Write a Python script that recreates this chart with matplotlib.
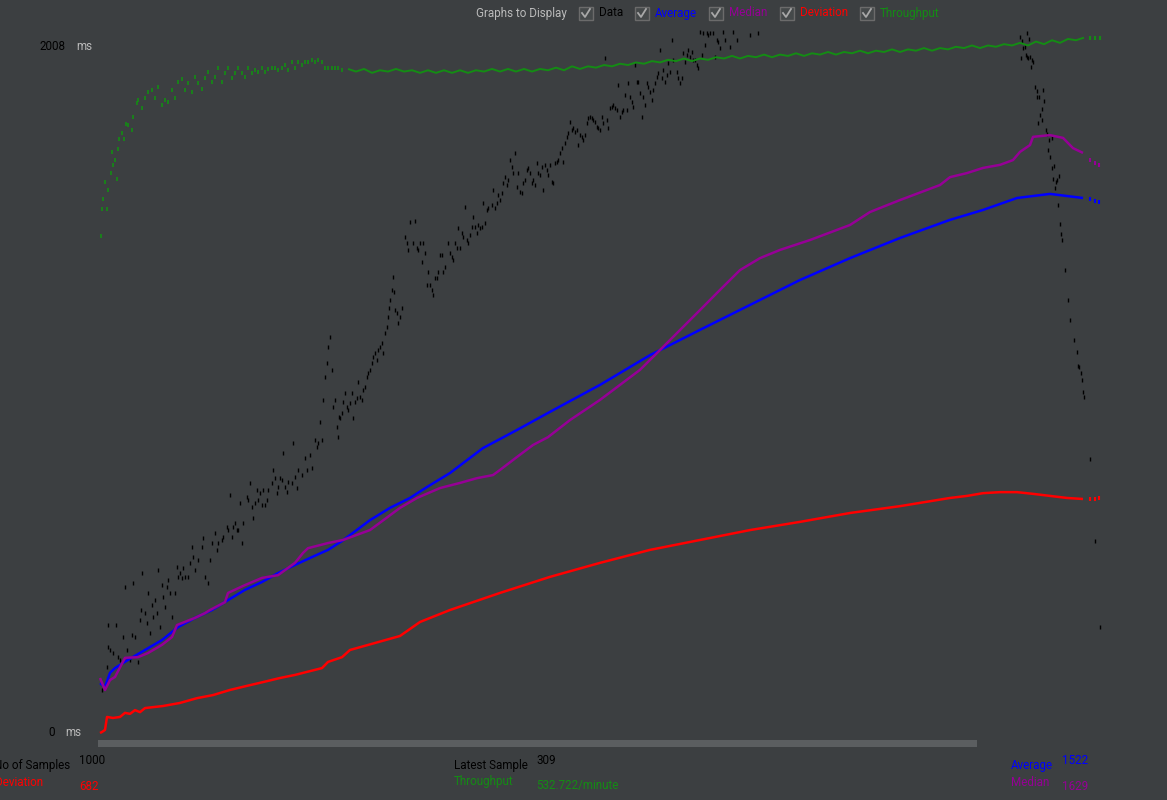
import numpy as np
import matplotlib
matplotlib.use("Agg")
import matplotlib.pyplot as plt
from matplotlib.patches import Rectangle
from matplotlib.lines import Line2D

# JMeter "Graph Results" screenshot: 1000 samples, response times in ms
W, H = 1167, 800
BG = "#3c3f41"
C_DATA, C_AVG, C_MED, C_DEV, C_THR = "#000000", "#0000ff", "#960096", "#ff0000", "#148c14"
GRAY = "#bbbbbb"

GRAPH_MAX = 2008
SUMMARY = {"samples": 1000, "latest": 309, "average": 1522, "median": 1629,
           "deviation": 682, "throughput": "532.722/minute"}

# --- series (sample index, ms) ---
AVG_IDX = [0, 5, 10, 15, 28, 45, 62, 78, 95, 112, 128, 145, 162, 178, 195, 212, 228, 242, 270, 290,
           310, 327, 350, 383, 417, 450, 500, 550, 600, 650, 700, 750, 800, 850, 883, 917, 950, 983,
           990, 995, 999]
AVG_MS = [146, 135, 176, 190, 214, 243, 272, 310, 337, 360, 389, 419, 442, 468, 492, 515, 536, 562, 623, 659,
          688, 720, 761, 834, 887, 940, 1019, 1106, 1180, 1253, 1326, 1390, 1449, 1502, 1531, 1566, 1578, 1566,
          1563, 1557, 1554]

MED_IDX = [0, 5, 10, 15, 25, 38, 48, 62, 72, 77, 95, 105, 110, 125, 128, 145, 162, 178, 195, 203,
           208, 228, 243, 270, 300, 317, 340, 360, 377, 393, 400, 417, 433, 448, 470, 500, 540, 560, 600, 620,
           640, 660, 680, 710, 750, 770, 800, 840, 850, 867, 883, 900, 913, 920, 930, 933, 950, 963, 973, 983,
           990, 995, 999]
MED_MS = [161, 126, 155, 164, 220, 222, 234, 258, 281, 316, 337, 351, 360, 383, 410, 433, 454, 462, 498, 527,
          541, 556, 565, 594, 659, 688, 717, 732, 746, 755, 770, 808, 843, 866, 916, 975, 1063, 1121, 1238, 1297,
          1355, 1390, 1414, 1443, 1487, 1525, 1560, 1604, 1627, 1639, 1654, 1663, 1677, 1701, 1721, 1745, 1750,
          1742, 1712, 1698, 1677, 1668, 1663]

DEV_IDX = [0, 2, 5, 7, 13, 20, 25, 30, 35, 40, 45, 63, 80, 97, 113, 130, 147, 163, 180, 195,
           222, 228, 242, 250, 300, 320, 350, 400, 450, 500, 550, 600, 650, 700, 750, 800, 850, 867, 883, 900,
           917, 933, 950, 967, 983, 990, 995, 999]
DEV_MS = [0, 3, 9, 47, 44, 47, 59, 56, 67, 61, 73, 79, 88, 102, 111, 126, 138, 149, 161, 170,
          190, 208, 222, 243, 284, 325, 360, 410, 457, 498, 536, 565, 594, 618, 644, 664, 688, 694, 702, 705,
          705, 700, 694, 688, 685, 685, 685, 688]

# throughput (requests/minute): noisy start, then a steady line
THR_EARLY_IDX = [1, 2, 3, 5, 7, 8, 11, 12, 13, 15, 17, 18, 19, 22, 24, 26, 28, 32, 33, 37,
                 38, 42, 45, 48, 52, 55, 58, 62, 65, 68, 72, 75, 78, 82, 85, 88, 92, 95, 98, 102,
                 105, 108, 112, 115, 118, 122, 125, 128, 132, 135, 138, 142, 145, 148, 152, 155, 158, 162, 165, 168,
                 172, 175, 178, 182, 185, 188, 192, 195, 198, 202, 205, 208, 212, 215, 218, 222, 225, 228, 232, 235,
                 238, 242]
THR_EARLY = [381, 402, 409, 422, 402, 416, 429, 445, 435, 439, 425, 448, 455, 460, 455, 467, 466, 462, 472, 483,
             485, 479, 487, 491, 493, 487, 495, 481, 485, 484, 493, 487, 499, 501, 493, 498, 491, 503, 498, 494,
             502, 507, 499, 503, 510, 499, 506, 510, 502, 506, 510, 506, 503, 510, 506, 508, 507, 510, 507, 509,
             510, 510, 508, 510, 512, 508, 514, 510, 514, 512, 514, 514, 516, 514, 516, 514, 510, 510, 510, 510,
             510, 508]
THR_LINE_IDX = list(range(248, 985, 8)) + [990, 995, 1000]
THR_LINE = [509, 507, 509, 506, 508, 507, 509, 507, 508, 506,
            508, 506, 508, 506, 508, 506, 508, 507, 509, 507,
            509, 507, 509, 507, 509, 508, 510, 508, 511, 509,
            511, 510, 512, 511, 513, 512, 514, 513, 515, 514,
            516, 515, 517, 515, 517, 516, 518, 517, 519, 517,
            519, 518, 520, 518, 520, 519, 521, 519, 521, 520,
            522, 520, 522, 521, 523, 521, 523, 522, 524, 522,
            524, 523, 525, 523, 525, 524, 526, 525, 527, 525,
            527, 526, 528, 527, 529, 527, 530, 528, 531, 529,
            532, 531, 533, 533, 533, 533]

# individual samples (only the ones visible inside the graph)
DATA_IDX = [2, 7, 8, 10, 8, 16, 13, 18, 20, 25, 23, 27, 30, 32, 33, 35, 38, 40, 42, 41,
            45, 47, 48, 50, 52, 53, 55, 57, 58, 60, 62, 63, 65, 67, 68, 70, 72, 75, 77, 78,
            80, 82, 83, 85, 88, 90, 92, 93, 95, 98, 102, 103, 105, 108, 110, 112, 115, 117, 118, 122,
            123, 127, 128, 130, 132, 133, 135, 137, 138, 140, 142, 143, 147, 148, 150, 152, 153, 155, 157, 158,
            160, 162, 163, 165, 167, 168, 172, 173, 175, 177, 178, 180, 182, 183, 185, 187, 188, 192, 193, 195,
            197, 198,
            202, 205, 207, 210, 212, 215, 217, 218, 222, 220, 223, 225, 227, 228, 230, 232, 233, 235, 237, 238,
            239, 240, 242, 243, 245, 247, 248, 250, 252, 253, 255, 257, 258, 260, 262, 263, 265, 267, 268, 270,
            272, 273, 275, 277, 278, 280, 282, 283, 285, 287, 288, 289, 290, 292, 293, 294, 295, 297, 298, 300,
            302, 305, 307, 308, 310, 313, 315, 317, 318, 320, 322, 323, 325, 327, 328, 330, 332, 333, 335, 337,
            338, 340, 342, 343, 345, 348, 350, 352, 353, 355, 357, 358, 360, 362, 363, 365, 367, 368, 370, 372,
            373, 375, 377, 378, 380, 382, 383, 385, 387, 388, 392, 395, 397, 400,
            393, 398, 402,
            403, 405, 407, 408, 410, 412, 413, 415, 417, 418, 420, 422, 423, 425, 427, 428, 430, 432, 433, 435,
            437, 438, 440, 442, 443, 445, 447, 448, 450, 452, 453, 455, 457, 458, 460, 462, 463, 465, 467, 468,
            470, 472, 473, 475, 477, 478, 480, 482, 483, 485, 487, 488, 490, 492, 493, 495, 497, 498, 500, 502,
            503, 505, 507, 508, 510, 512, 513, 515, 517, 518, 520, 522, 523, 525, 527, 528, 530, 532, 533, 535,
            537, 538, 540, 542, 543, 545, 547, 548, 550, 552, 553, 555, 557, 558, 560, 562, 563, 565, 567, 568,
            570, 572, 573, 577, 578, 580, 582, 583, 585, 587, 588, 590, 592, 593, 595, 597, 598, 600, 602, 603,
            605, 607, 608, 610, 613, 615, 617, 618, 620, 623, 625, 630, 633, 637, 650, 658,
            920, 927, 922, 929, 923, 925, 926, 921, 927, 928, 930, 932, 933, 931, 935, 937, 943, 937, 939, 944,
            942, 940, 942, 938, 946, 947, 952, 949, 948, 950, 954, 952, 959, 953, 957, 956, 955, 958,
            960, 961, 962, 965, 968, 970, 974,
            977, 978, 979, 981, 982, 983, 984, 990, 995, 1000]
DATA_MS = [126, 194, 253, 243, 316, 316, 234, 222, 214, 427, 281, 243, 214, 287, 439, 281, 208, 331, 468, 360,
           351, 322, 410, 293, 375, 340, 389, 351, 477, 310, 433, 398, 369, 427, 448, 410, 340, 410, 486, 457,
           468, 454, 483, 457, 457, 498, 544, 515, 477, 506, 544, 571, 457, 439, 506, 556, 585, 536, 556, 565,
           574, 603, 594, 697, 574, 603, 615, 594, 594, 673, 556, 615, 691, 682, 732, 662, 629, 673, 711, 682,
           702, 667, 711, 667, 682, 711, 732, 770, 746, 702, 720, 746, 741, 820, 720, 705, 735, 732, 849, 749,
           717, 770,
           755, 805, 770, 814, 776, 858, 837, 849, 858, 910, 975, 1042, 1083, 1130, 1159, 1063, 954, 975, 896, 866,
           925, 922, 937, 969, 995, 954, 945, 966, 995, 922, 969, 981, 1027, 983, 975, 1004, 1013, 1042, 1054, 1063,
           1083, 1101, 1112, 1092, 1121, 1130, 1142, 1112, 1171, 1188, 1218, 1244, 1267, 1297, 1335, 1291, 1238, 1229, 1200, 1218,
           1244, 1452, 1434, 1414, 1496, 1434, 1499, 1420, 1414, 1434, 1379, 1434, 1405, 1311, 1349, 1311, 1297, 1282, 1332, 1332,
           1349, 1399, 1399, 1349, 1364, 1434, 1405, 1393, 1384, 1434, 1420, 1478, 1420, 1464, 1452, 1540, 1443, 1434, 1458, 1481,
           1510, 1481, 1464, 1487, 1478, 1481, 1551, 1493, 1531, 1537, 1545, 1537, 1551, 1560,
           1589, 1575, 1581,
           1610, 1627, 1604, 1619, 1677, 1657, 1639, 1698, 1598, 1639, 1584, 1581, 1610, 1619, 1648, 1654, 1639, 1610, 1619, 1604,
           1668, 1639, 1633, 1657, 1589, 1663, 1648, 1633, 1663, 1613, 1610, 1668, 1671, 1677, 1698, 1712, 1671, 1727, 1745, 1756,
           1788, 1765, 1771, 1759, 1765, 1721, 1750, 1745, 1736, 1750, 1785, 1800, 1803, 1800, 1794, 1788, 1774, 1771, 1765, 1803,
           1785, 1976, 1794, 1771, 1829, 1832, 1838, 1829, 1824, 1897, 1803, 1818, 1824, 1867, 1824, 1903, 1862, 1847, 1832, 1955,
           1906, 1906, 1873, 1803, 1862, 1838, 1903, 1891, 1876, 1853, 1882, 1903, 1920, 1932, 1999, 1917, 1941, 1906, 1926, 1961,
           1935, 2028, 1970, 1935, 1917, 1903, 1917, 1990, 1964, 1985, 1999, 1979, 1993, 1970, 1970, 1955, 1946, 2052, 1985, 2049,
           2014, 2049, 2043, 2049, 2049, 1979, 2028, 2023, 2005, 2052, 2028, 2008, 2052, 2028, 2043, 2049,
           2037, 2049, 2025, 2031, 2005, 2008, 1985, 1976, 1979, 1976, 1979, 1970, 1964, 1949, 1891, 1879, 1882, 1862, 1862, 1850,
           1826, 1809, 1794, 1785, 1765, 1753, 1742, 1736, 1706, 1686, 1660, 1654, 1630, 1622, 1619, 1613, 1595, 1545,
           1490, 1460, 1443, 1355, 1267, 1209, 1150,
           1115, 1074, 1071, 1054, 1033, 998, 983, 802, 562, 309]

plt.rcParams["font.family"] = ["Roboto", "DejaVu Sans"]
plt.rcParams["font.size"] = 8.4

fig = plt.figure(figsize=(W / 100, H / 100), dpi=100, facecolor=BG)

# graph area: sample i sits at pixel 100 + i, 0 ms at y=733, 2008 ms at y=47
MS_PER_PX = GRAPH_MAX / 686.0
THR_SCALE = 532.722 / 695.0 / MS_PER_PX  # throughput units per ms unit
ax = fig.add_axes([0, 0, 1, 1])
ax.set_facecolor(BG)
ax.set_xlim(-100, W - 100)
ax.set_ylim(-(H - 733) * MS_PER_PX, 733 * MS_PER_PX)
ax.axis("off")

ax2 = ax.twinx()
ax2.set_ylim(ax.get_ylim()[0] * THR_SCALE, ax.get_ylim()[1] * THR_SCALE)
ax2.axis("off")

TAIL = 985  # after this the curves are only dotted


def draw_curve(a, idx, vals, color, lw=1.8, z=3):
    idx, vals = np.array(idx), np.array(vals)
    body = idx <= TAIL
    a.plot(idx[body], vals[body], color=color, lw=lw, zorder=z, solid_capstyle="butt")
    a.plot(idx[~body], vals[~body], ls="none", marker="|", ms=2.5, mew=1.5, color=color, zorder=z)


ax.plot(DATA_IDX, DATA_MS, ls="none", marker="|", ms=2.2, mew=1.0, color=C_DATA, zorder=2)
draw_curve(ax, AVG_IDX, AVG_MS, C_AVG, z=3)
draw_curve(ax, MED_IDX, MED_MS, C_MED, z=4)
draw_curve(ax, DEV_IDX, DEV_MS, C_DEV, z=5)
ax2.plot(THR_EARLY_IDX, THR_EARLY, ls="none", marker="|", ms=2.2, mew=1.2, color=C_THR)
draw_curve(ax2, THR_LINE_IDX, THR_LINE, C_THR, lw=1.4)


# --- chrome drawn in pixel coordinates ---
def fx(x):
    return x / W


def fy(y):
    return 1 - y / H


def label(x, y, s, color="black", ha="left"):
    fig.text(fx(x), fy(y), s, color=color, ha=ha, va="center")


label(476, 13, "Graphs to Display", GRAY)
checks = [(579, "Data", C_DATA), (635, "Average", C_AVG), (709, "Median", C_MED),
          (780, "Deviation", C_DEV), (860, "Throughput", C_THR)]
for x0, name, col in checks:
    fig.patches.append(Rectangle((fx(x0), fy(20)), 14 / W, 13 / H, transform=fig.transFigure,
                                 facecolor="#45494a", edgecolor="#6b6b6b", lw=1))
    fig.lines.append(Line2D([fx(x0 + 3), fx(x0 + 6), fx(x0 + 11)], [fy(13), fy(17), fy(9)],
                            transform=fig.transFigure, color="#a8a8a8", lw=1.3))
    label(x0 + 20, 13, name, col)

label(66, 47, str(GRAPH_MAX), ha="right")
label(76, 47, "ms", GRAY)
label(55, 733, "0", ha="right")
label(65, 733, "ms", GRAY)

fig.patches.append(Rectangle((fx(98), fy(747)), 879 / W, 7 / H, transform=fig.transFigure,
                             facecolor="#5b5e60", edgecolor="none"))

label(70, 766, "No of Samples", ha="right")
label(79, 761, str(SUMMARY["samples"]))
label(43, 782, "Deviation", C_DEV, ha="right")
label(79, 786, str(SUMMARY["deviation"]), C_DEV)
label(454, 766, "Latest Sample")
label(536, 761, str(SUMMARY["latest"]))
label(454, 782, "Throughput", C_THR)
label(536, 786, SUMMARY["throughput"], C_THR)
label(1011, 766, "Average", C_AVG)
label(1062, 761, str(SUMMARY["average"]), C_AVG)
label(1011, 782, "Median", C_MED)
label(1062, 786, str(SUMMARY["median"]), C_MED)

fig.savefig("out.png", dpi=100, facecolor=BG)
